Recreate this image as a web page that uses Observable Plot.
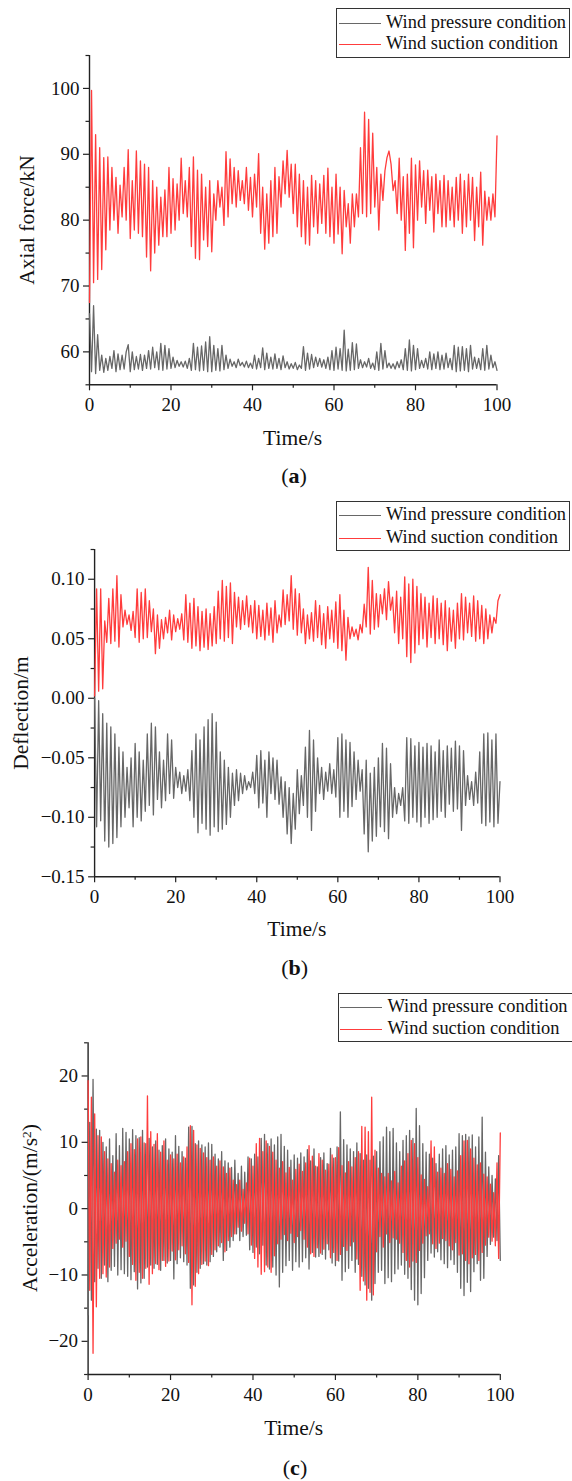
<!DOCTYPE html>
<html><head><meta charset="utf-8">
<script src="https://cdn.jsdelivr.net/npm/d3@7"></script>
<script src="https://cdn.jsdelivr.net/npm/@observablehq/plot@0.6"></script>
<style>
body{margin:0;background:#fff;}
#root{position:relative;width:572px;height:1481px;overflow:hidden;font-family:"Liberation Serif","Times New Roman",serif;color:#111;background:#fff;}
.panel{position:absolute;left:0;}
.lab{position:absolute;white-space:nowrap;transform:translate(-50%,-50%);font-size:21.5px;line-height:1;}
.ylab{transform:translate(-50%,-50%) rotate(-90deg);}
.cap{position:absolute;white-space:nowrap;transform:translate(-50%,-50%);font-size:22px;line-height:1;}
.box{position:absolute;border:1px solid #333;background:#fff;box-sizing:border-box;}
.lline{position:absolute;height:0;border-top:1.3px solid;}
.ltext{position:absolute;white-space:nowrap;font-size:18.4px;line-height:1;transform:translateY(-52%);}
</style></head>
<body><div id="root"></div>
<script>
// ---- sample times ----
const tAB = d3.range(0, 100.0001, 0.5);
const tC = d3.range(0, 100.0001, 0.4);

// ---- (a) axial force, kN ----
const axialPressure = [
65.8,57.0,67.0,56.7,62.6,57.2,59.5,56.9,59.0,57.2,
59.3,57.5,60.2,57.0,59.7,57.3,59.5,57.4,60.0,61.1,
57.0,60.0,57.3,59.3,57.4,59.6,57.2,59.5,57.5,60.2,
57.4,60.7,57.6,60.0,57.3,61.3,57.2,61.0,57.4,60.5,
57.5,59.2,57.6,58.7,57.8,58.5,57.7,58.6,57.5,59.0,
57.2,61.3,57.3,60.7,57.1,60.9,57.2,61.5,57.0,62.3,
57.0,61.0,57.2,60.5,57.1,61.0,57.3,59.5,57.5,58.9,
57.8,58.5,57.6,58.9,57.9,58.4,57.7,58.6,57.6,58.3,
57.5,59.5,57.4,59.0,57.6,60.6,57.3,59.8,57.5,59.2,
57.4,59.7,57.5,59.0,57.3,59.4,57.6,58.5,57.4,58.2,
57.5,58.4,57.3,58.0,57.5,60.8,57.2,59.8,57.4,59.6,
57.6,59.2,57.8,59.0,57.7,58.8,57.5,59.2,57.3,60.2,
57.2,60.7,57.4,60.5,57.2,63.3,57.1,60.4,57.2,61.4,
57.3,61.2,57.5,58.8,57.6,58.5,57.7,59.0,57.5,58.3,
57.3,60.0,57.2,61.3,57.4,60.2,57.6,58.3,57.5,58.2,
57.4,58.5,57.6,58.8,57.3,60.5,57.2,61.8,57.1,61.0,
57.3,60.5,57.5,58.7,57.6,59.0,57.4,60.0,57.3,59.7,
57.5,60.0,57.3,59.5,57.4,59.8,57.6,59.0,57.3,61.0,
57.0,60.7,57.1,60.8,57.2,60.5,57.0,61.0,57.4,59.2,
57.5,59.0,57.3,60.5,57.2,61.0,57.4,59.5,57.6,58.5,
57.2];
const axialSuction = [
67.5,99.7,70.5,93.0,71.0,91.0,72.5,89.5,75.5,89.6,
78.5,88.0,80.0,86.5,78.0,85.3,80.5,88.0,80.0,90.7,
77.2,86.0,78.5,90.5,78.0,89.0,77.5,88.5,74.4,88.0,
72.3,86.0,75.0,85.0,76.2,83.5,77.5,84.6,77.5,88.0,
78.0,86.3,78.5,85.5,80.0,89.4,81.0,86.0,80.5,88.0,
76.0,89.6,74.2,87.6,74.0,87.0,77.0,85.0,76.0,86.0,
75.2,84.0,80.0,86.0,82.0,85.0,79.2,90.4,80.5,89.3,
82.5,88.0,82.0,87.5,83.0,86.0,82.5,88.0,81.5,86.5,
80.5,87.0,82.0,90.1,78.0,85.0,75.6,84.0,76.5,86.0,
77.5,88.0,78.0,86.6,82.0,89.0,84.0,90.6,83.5,88.5,
81.0,88.5,79.0,87.0,77.5,86.0,76.4,85.0,76.2,86.8,
79.0,86.0,78.0,85.5,79.5,86.8,78.0,87.9,77.5,85.0,
76.5,87.0,77.9,85.0,74.9,84.5,79.0,82.5,76.5,84.0,
79.0,84.0,80.5,91.0,81.0,96.4,80.5,95.3,81.0,93.2,
82.0,88.0,78.5,87.0,83.0,87.5,89.5,90.5,88.5,84.5,
86.0,81.0,89.4,80.0,86.6,75.4,87.0,78.0,89.4,75.8,
88.4,80.0,89.0,82.0,87.5,79.5,87.6,81.5,86.6,78.2,
87.0,81.0,86.0,79.0,86.8,79.0,86.0,80.0,85.0,79.0,
86.5,80.0,87.0,78.0,86.0,79.0,87.0,80.0,86.5,76.9,
85.0,79.0,87.3,76.2,84.4,80.0,83.5,80.0,84.0,80.5,
92.8];

// ---- (b) deflection, m ----
const deflPressure = [
0.000,-0.108,-0.002,-0.103,-0.013,-0.120,-0.021,-0.125,-0.024,-0.122,
-0.030,-0.117,-0.041,-0.108,-0.045,-0.100,-0.058,-0.092,-0.050,-0.108,
-0.038,-0.100,-0.045,-0.103,-0.052,-0.095,-0.030,-0.090,-0.021,-0.098,
-0.024,-0.085,-0.045,-0.092,-0.052,-0.086,-0.030,-0.080,-0.035,-0.084,
-0.058,-0.075,-0.062,-0.080,-0.065,-0.078,-0.060,-0.086,-0.044,-0.100,
-0.030,-0.113,-0.035,-0.105,-0.024,-0.110,-0.018,-0.115,-0.013,-0.108,
-0.020,-0.112,-0.045,-0.110,-0.052,-0.106,-0.058,-0.100,-0.063,-0.090,
-0.060,-0.086,-0.063,-0.080,-0.065,-0.077,-0.070,-0.075,-0.062,-0.080,
-0.048,-0.092,-0.044,-0.088,-0.052,-0.100,-0.045,-0.080,-0.050,-0.085,
-0.052,-0.089,-0.066,-0.100,-0.070,-0.114,-0.075,-0.122,-0.080,-0.110,
-0.060,-0.097,-0.065,-0.090,-0.041,-0.100,-0.027,-0.111,-0.035,-0.095,
-0.050,-0.080,-0.058,-0.085,-0.062,-0.078,-0.055,-0.080,-0.060,-0.083,
-0.033,-0.100,-0.030,-0.095,-0.035,-0.100,-0.037,-0.091,-0.045,-0.085,
-0.052,-0.078,-0.060,-0.114,-0.052,-0.129,-0.063,-0.120,-0.058,-0.116,
-0.050,-0.108,-0.038,-0.112,-0.042,-0.118,-0.055,-0.100,-0.075,-0.097,
-0.080,-0.090,-0.075,-0.103,-0.033,-0.105,-0.034,-0.100,-0.040,-0.104,
-0.037,-0.108,-0.041,-0.100,-0.038,-0.105,-0.040,-0.102,-0.045,-0.100,
-0.035,-0.095,-0.044,-0.100,-0.040,-0.089,-0.042,-0.095,-0.036,-0.093,
-0.040,-0.111,-0.044,-0.090,-0.065,-0.085,-0.070,-0.090,-0.062,-0.088,
-0.045,-0.105,-0.030,-0.107,-0.029,-0.104,-0.035,-0.108,-0.030,-0.105,
-0.070];
const deflSuction = [
0.002,0.092,0.006,0.092,0.008,0.065,0.047,0.084,0.046,0.092,
0.048,0.103,0.043,0.087,0.060,0.074,0.062,0.070,0.057,0.073,
0.051,0.092,0.047,0.089,0.050,0.092,0.051,0.082,0.056,0.075,
0.0375,0.070,0.042,0.066,0.050,0.068,0.055,0.074,0.049,0.070,
0.056,0.067,0.058,0.071,0.049,0.087,0.047,0.080,0.042,0.084,
0.044,0.077,0.040,0.073,0.043,0.075,0.041,0.071,0.044,0.077,
0.046,0.090,0.050,0.099,0.048,0.094,0.051,0.097,0.046,0.089,
0.060,0.085,0.058,0.082,0.062,0.086,0.060,0.078,0.055,0.082,
0.050,0.078,0.052,0.074,0.049,0.080,0.053,0.076,0.047,0.082,
0.055,0.070,0.060,0.091,0.062,0.087,0.065,0.103,0.058,0.092,
0.053,0.088,0.055,0.075,0.046,0.070,0.050,0.072,0.048,0.082,
0.051,0.078,0.045,0.071,0.042,0.077,0.050,0.074,0.047,0.081,
0.042,0.087,0.040,0.074,0.032,0.068,0.050,0.060,0.052,0.058,
0.049,0.062,0.055,0.079,0.060,0.110,0.054,0.099,0.058,0.088,
0.060,0.087,0.071,0.092,0.066,0.098,0.074,0.085,0.055,0.090,
0.046,0.085,0.050,0.102,0.035,0.096,0.030,0.100,0.038,0.094,
0.045,0.088,0.050,0.085,0.043,0.080,0.051,0.086,0.046,0.084,
0.050,0.080,0.045,0.082,0.040,0.076,0.048,0.074,0.042,0.080,
0.050,0.088,0.049,0.085,0.055,0.080,0.052,0.086,0.048,0.082,
0.050,0.078,0.046,0.075,0.050,0.070,0.055,0.068,0.063,0.082,
0.087];

// ---- (c) acceleration, m/s^2 ----
const accPressure = [
-16.0,13.0,-13.8,19.5,-11.0,12.0,-9.0,11.8,-10.5,10.0,
-8.5,9.3,-11.0,10.5,-9.3,8.0,-8.7,11.3,-10.0,9.5,
-9.2,12.1,-9.8,11.5,-10.2,10.5,-10.7,11.9,-9.5,11.0,
-12.1,10.7,-11.2,11.8,-10.5,9.8,-8.8,10.6,-8.5,9.3,
-9.0,10.2,-8.4,8.8,-9.3,9.5,-7.8,10.5,-8.2,9.0,
-7.8,8.5,-10.6,11.0,-8.3,9.4,-7.4,8.6,-8.0,7.6,
-8.5,12.3,-12.0,12.4,-11.5,9.8,-9.6,10.2,-9.0,9.6,
-8.3,9.3,-8.5,9.9,-8.0,9.7,-7.2,8.2,-6.5,7.5,
-5.8,8.6,-7.8,7.2,-6.3,6.9,-5.8,6.2,-4.8,7.3,
-3.8,5.3,-4.8,6.4,-4.2,5.5,-4.0,7.8,-6.2,7.5,
-6.6,8.2,-5.8,7.8,-6.8,10.6,-5.5,11.2,-8.5,9.8,
-9.1,10.5,-8.8,9.6,-10.0,10.8,-11.8,11.2,-9.6,9.4,
-8.6,8.8,-7.8,7.3,-9.3,8.1,-8.0,7.6,-8.8,8.4,
-8.0,7.8,-7.4,8.9,-9.1,7.2,-6.6,9.0,-7.3,6.3,
-7.2,7.7,-6.9,8.4,-7.6,6.8,-6.2,9.1,-8.2,7.6,
-8.6,9.3,-7.9,14.6,-10.8,10.4,-9.5,9.6,-9.0,9.0,
-7.8,8.6,-9.6,9.9,-8.4,8.3,-10.2,7.3,-11.5,8.1,
-12.0,7.3,-13.8,7.9,-11.3,8.6,-9.6,10.1,-9.3,10.8,
-11.3,12.3,-10.4,11.6,-11.0,12.1,-9.8,9.9,-9.1,8.6,
-8.5,10.3,-9.9,11.0,-10.5,11.8,-12.2,10.6,-13.8,15.1,
-14.5,12.5,-12.8,9.8,-10.4,8.5,-7.8,8.2,-6.7,7.6,
-7.3,6.8,-6.5,8.2,-7.7,9.0,-8.3,9.5,-8.9,8.1,
-7.7,8.8,-8.4,9.3,-9.6,11.3,-12.0,11.0,-13.1,11.2,
-11.1,10.8,-12.5,11.1,-9.5,9.3,-8.3,10.8,-10.8,13.8,
-10.5,8.5,-7.2,6.3,-5.4,5.0,-4.3,4.5,-4.8,8.0,
-7.8];
const accSuction = [
19.3,-12.3,16.8,-21.8,14.3,-14.8,11.0,-10.5,10.8,-9.8,
8.6,-10.3,7.5,-8.8,6.8,-6.0,5.5,-5.2,7.3,-4.6,
6.5,-5.8,7.1,-4.9,8.6,-7.2,9.8,-8.4,8.9,-10.8,
10.5,-9.6,10.8,-10.5,9.9,-9.0,17.0,-11.4,11.6,-9.8,
9.7,-8.3,11.3,-9.2,8.5,-7.8,10.2,-8.7,7.3,-7.9,
8.1,-6.4,7.5,-7.7,8.2,-6.2,6.9,-5.6,7.8,-6.8,
9.3,-8.1,12.5,-14.5,11.8,-11.7,9.6,-9.8,9.1,-8.4,
8.4,-7.9,7.7,-8.6,7.3,-6.9,7.8,-6.2,6.4,-5.6,
7.2,-5.1,6.3,-6.5,5.3,-4.8,6.1,-4.2,4.3,-3.8,
3.6,-2.8,4.3,-3.4,2.9,-2.2,3.9,-3.8,7.6,-5.5,
6.4,-7.5,9.8,-8.8,10.6,-9.9,8.6,-9.5,10.2,-8.8,
9.4,-9.6,8.5,-7.1,7.3,-5.3,6.1,-4.6,7.1,-3.9,
5.4,-4.8,6.2,-3.7,4.3,-5.1,5.9,-4.2,6.7,-3.3,
5.6,-4.6,6.9,-5.8,9.5,-6.8,7.9,-7.2,6.4,-5.9,
8.3,-6.7,7.3,-6.1,5.8,-5.3,6.7,-7.4,8.1,-6.6,
7.7,-7.8,9.2,-6.9,6.5,-5.7,5.4,-6.3,7.1,-5.6,
6.3,-5.0,7.7,-7.6,8.6,-12.3,12.4,-10.9,12.3,-13.8,
11.6,-12.6,16.8,-13.0,8.8,-6.5,6.1,-4.2,5.3,-5.8,
4.8,-3.8,5.3,-5.1,4.2,-4.4,5.6,-4.6,3.9,-5.2,
6.4,-6.6,7.2,-7.8,8.3,-8.8,10.3,-7.9,9.8,-8.1,
7.7,-6.3,5.1,-5.2,4.4,-4.1,3.3,-3.8,10.2,-5.3,
9.3,-6.0,5.5,-5.2,6.1,-4.5,5.3,-4.8,6.8,-5.6,
5.9,-6.2,4.8,-5.1,5.7,-7.0,8.0,-6.8,10.2,-7.8,
10.3,-8.3,9.0,-7.4,7.6,-6.9,6.6,-7.8,6.9,-6.6,
5.2,-5.5,4.8,-4.3,3.7,-4.9,2.4,-5.6,6.9,-7.5,
11.4];

// ---- ticks & labels ----
const xMajor = [0, 20, 40, 60, 80, 100];
const xMinor = [10, 30, 50, 70, 90];
const aMajor = [60, 70, 80, 90, 100];
const aMinor = [55, 65, 75, 85, 95, 105];
const bMajor = [-0.15, -0.10, -0.05, 0.00, 0.05, 0.10];
const bMinor = [-0.125, -0.075, -0.025, 0.025, 0.075, 0.125];
const cMajor = [-20, -10, 0, 10, 20];
const cMinor = [-25, -15, -5, 5, 15, 25];
const seriesNames = ["Wind pressure condition", "Wind suction condition"];
const colors = ["#676767", "#ff3c3c"];

const root = document.getElementById("root");
const FONT = "'Liberation Serif','Times New Roman',serif";

function panel(o) {
  const pData = o.t.map((t, i) => ({t, v: o.pressure[i]}));
  const sData = o.t.map((t, i) => ({t, v: o.suction[i]}));
  const svg = Plot.plot({
    width: 572, height: o.height,
    marginLeft: o.mL, marginRight: o.mR, marginTop: o.mT, marginBottom: o.mB,
    x: {domain: [0, 100]},
    y: {domain: o.yDomain},
    style: {fontFamily: FONT, fontSize: "19px", color: "#111", background: "transparent", overflow: "visible"},
    marks: [
      Plot.axisX({ticks: xMajor, tickSize: 6, tickPadding: 7, fontSize: 19, label: null, stroke: "#222", strokeWidth: 1.2, tickFormat: d => String(d)}),
      Plot.axisX({ticks: xMinor, tickSize: 3.5, label: null, stroke: "#222", strokeWidth: 1.2, tickFormat: () => ""}),
      Plot.axisY({ticks: o.yMajor, tickSize: 6, tickPadding: 4, fontSize: 19, label: null, stroke: "#222", strokeWidth: 1.2, tickFormat: o.yFmt}),
      Plot.axisY({ticks: o.yMinor, tickSize: 3.5, label: null, stroke: "#222", strokeWidth: 1.2, tickFormat: () => ""}),
      Plot.ruleX([0], {stroke: "#222", strokeWidth: 1.4}),
      Plot.ruleY([o.yDomain[0]], {stroke: "#222", strokeWidth: 1.4}),
      Plot.line(pData, {x: "t", y: "v", stroke: colors[0], strokeWidth: 1.3}),
      Plot.line(sData, {x: "t", y: "v", stroke: colors[1], strokeWidth: 1.3})
    ]
  });
  svg.classList.add("panel");
  svg.style.top = o.top + "px";
  svg.style.position = "absolute";
  root.appendChild(svg);
}

function addText(cls, html, x, y) {
  const d = document.createElement("div");
  d.className = cls;
  d.innerHTML = html;
  d.style.left = x + "px";
  d.style.top = y + "px";
  root.appendChild(d);
  return d;
}

function legend(o) {
  const b = document.createElement("div");
  b.className = "box";
  b.style.left = o.x0 + "px"; b.style.top = o.y0 + "px";
  b.style.width = (o.x1 - o.x0) + "px"; b.style.height = (o.y1 - o.y0) + "px";
  root.appendChild(b);
  o.rows.forEach((ry, i) => {
    const l = document.createElement("div");
    l.className = "lline";
    l.style.left = o.lx0 + "px"; l.style.width = (o.lx1 - o.lx0) + "px";
    l.style.top = ry + "px"; l.style.borderTopColor = colors[i];
    root.appendChild(l);
    const t = document.createElement("div");
    t.className = "ltext";
    t.textContent = seriesNames[i];
    t.style.left = o.tx + "px"; t.style.top = ry + "px";
    root.appendChild(t);
  });
}

// Panel (a)
panel({top: 0, height: 420, mL: 89, mR: 75.5, mT: 55, mB: 35.7, t: tAB,
  pressure: axialPressure, suction: axialSuction, yDomain: [55, 105],
  yMajor: aMajor, yMinor: aMinor, yFmt: d => String(d)});
legend({x0: 336, x1: 570, y0: 8, y1: 57.5, rows: [22.7, 44.3], lx0: 339, lx1: 380.5, tx: 386});
addText("lab ylab", "Axial force/kN", 27.5, 219.6);
addText("lab", "Time/s", 292.6, 439);
addText("cap", "(<b>a</b>)", 294, 476);

// Panel (b)
panel({top: 500, height: 420, mL: 94.1, mR: 72.5, mT: 49, mB: 43.7, t: tAB,
  pressure: deflPressure, suction: deflSuction, yDomain: [-0.15, 0.125],
  yMajor: bMajor, yMinor: bMinor, yFmt: d3.format(".2f")});
legend({x0: 336, x1: 570, y0: 501, y1: 551, rows: [515, 538.3], lx0: 339, lx1: 380.5, tx: 386});
addText("lab ylab", "Deflection/m", 21.5, 712.7);
addText("lab", "Time/s", 296.8, 930);
addText("cap", "(<b>b</b>)", 294.6, 968.3);

// Panel (c)
panel({top: 990, height: 420, mL: 87.6, mR: 72.2, mT: 52.3, mB: 36, t: tC,
  pressure: accPressure, suction: accSuction, yDomain: [-25, 25],
  yMajor: cMajor, yMinor: cMinor, yFmt: d3.format("d")});
legend({x0: 337.5, x1: 574, y0: 993.3, y1: 1042.3, rows: [1006.7, 1029.3], lx0: 340, lx1: 382, tx: 387.5});
addText("lab ylab", "Acceleration/(m/s<sup style='font-size:0.62em;vertical-align:0.5em;line-height:0'>2</sup>)", 30.5, 1208);
addText("lab", "Time/s", 293.7, 1429.3);
addText("cap", "(<b>c</b>)", 295, 1468.3);
</script>
</body></html>
